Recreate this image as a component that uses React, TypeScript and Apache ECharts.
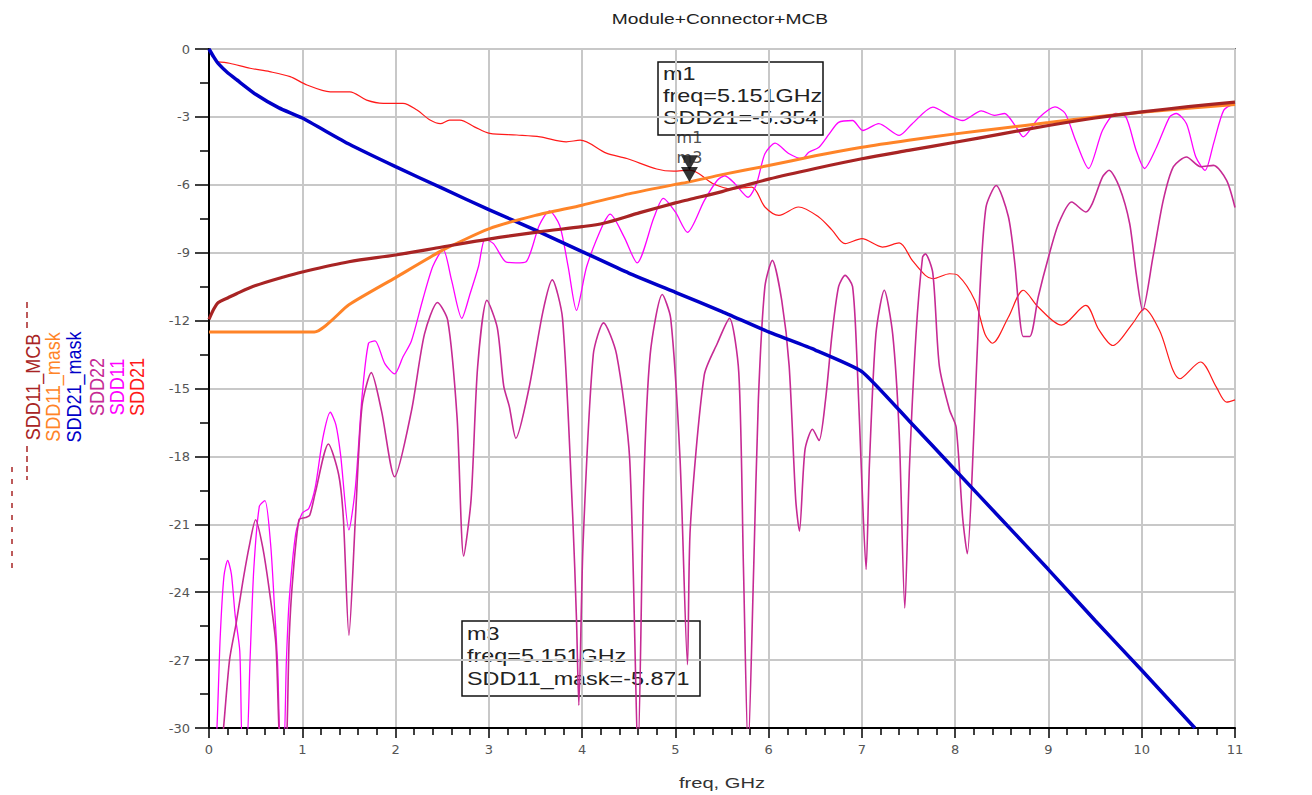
import React, { useEffect, useRef } from "react";
import * as echarts from "echarts";

const chartTitle = "Module+Connector+MCB";
const xAxisTitle = "freq, GHz";

// SDD21 (red)
const sdd21Freq = [0.08, 0.22, 0.44, 0.65, 0.87, 1.05, 1.3, 1.51, 1.69, 1.87, 2.08, 2.23, 2.37, 2.48, 2.58, 2.69, 2.85, 3.01, 3.3, 3.55, 3.83, 3.98, 4.26, 4.48, 4.8, 4.98, 5.151, 5.25, 5.4, 5.6, 5.82, 5.96, 6.11, 6.32, 6.54, 6.68, 6.82, 7.0, 7.22, 7.4, 7.54, 7.68, 7.76, 7.94, 8.03, 8.21, 8.32, 8.4, 8.57, 8.73, 8.89, 9.14, 9.4, 9.54, 9.69, 9.9, 10.03, 10.19, 10.41, 10.63, 10.8, 10.91, 11.0];
const sdd21Db = [-0.56, -0.63, -0.85, -1.0, -1.22, -1.59, -1.89, -1.89, -2.26, -2.4, -2.4, -2.7, -3.14, -3.3, -3.14, -3.14, -3.45, -3.73, -3.8, -3.88, -4.1, -4.03, -4.6, -4.84, -5.3, -5.4, -5.354, -5.5, -5.94, -6.18, -6.1, -6.98, -7.35, -6.98, -7.43, -8.0, -8.6, -8.38, -8.75, -8.57, -9.34, -10.0, -10.15, -9.93, -10.0, -11.1, -12.6, -13.0, -11.85, -10.66, -11.4, -12.2, -11.33, -12.4, -13.1, -12.14, -11.47, -12.43, -14.57, -13.83, -14.94, -15.6, -15.5];

// SDD11 (magenta)
const sdd11Freq = [0.02, 0.08, 0.12, 0.16, 0.2, 0.24, 0.28, 0.33, 0.36, 0.4, 0.44, 0.48, 0.54, 0.6, 0.66, 0.7, 0.735, 0.77, 0.8, 0.83, 0.86, 0.93, 1.0, 1.07, 1.14, 1.22, 1.3, 1.36, 1.41, 1.5, 1.57, 1.64, 1.71, 1.78, 1.885, 1.99, 2.08, 2.17, 2.29, 2.4, 2.51, 2.6, 2.71, 2.8, 2.89, 2.96, 3.05, 3.18, 3.29, 3.4, 3.54, 3.65, 3.76, 3.85, 3.94, 4.05, 4.23, 4.3, 4.45, 4.59, 4.77, 4.87, 5.0, 5.13, 5.31, 5.45, 5.53, 5.64, 5.78, 5.87, 5.96, 6.07, 6.22, 6.36, 6.43, 6.54, 6.65, 6.75, 6.9, 7.01, 7.18, 7.4, 7.54, 7.76, 7.94, 8.08, 8.28, 8.42, 8.53, 8.64, 8.73, 8.89, 9.07, 9.18, 9.29, 9.43, 9.58, 9.72, 9.83, 9.94, 10.03, 10.16, 10.3, 10.37, 10.48, 10.58, 10.68, 10.77, 10.88, 11.0];
const sdd11Db = [-34, -30.5, -26, -23.3, -22.6, -23.2, -25, -26.6, -31, -31, -27, -23, -20.2, -19.95, -21.85, -24.5, -27.1, -31, -31, -27, -24.35, -21.4, -20.5, -20.3, -19.35, -17.2, -16.05, -16.6, -17.9, -21.25, -19.35, -15.4, -13.0, -12.9, -13.9, -14.35, -13.6, -12.9, -11.1, -9.6, -8.85, -10.2, -11.9, -10.8, -9.6, -8.4, -8.6, -9.4, -9.45, -9.4, -7.8, -7.15, -7.8, -9.6, -11.55, -9.6, -7.7, -7.3, -8.3, -9.45, -7.45, -6.6, -7.2, -8.1, -6.7, -5.8, -5.6, -5.96, -6.55, -5.96, -4.63, -4.16, -4.63, -4.85, -4.56, -4.34, -3.75, -3.24, -3.16, -3.6, -3.3, -3.82, -3.3, -2.57, -2.94, -3.16, -2.73, -2.93, -2.85, -3.37, -3.88, -3.07, -2.56, -2.85, -4.03, -5.28, -3.59, -2.85, -3.0, -4.47, -5.28, -4.33, -3.0, -2.85, -3.3, -4.77, -5.36, -4.18, -2.7, -2.4];

// SDD22 (purple)
const sdd22Freq = [0.03, 0.133, 0.22, 0.29, 0.36, 0.43, 0.5, 0.575, 0.646, 0.717, 0.77, 0.82, 0.86, 0.894, 0.965, 1.035, 1.08, 1.14, 1.28, 1.39, 1.44, 1.5, 1.57, 1.64, 1.74, 1.85, 1.99, 2.17, 2.31, 2.45, 2.56, 2.66, 2.73, 2.81, 2.88, 2.98, 3.09, 3.16, 3.22, 3.29, 3.43, 3.58, 3.68, 3.79, 3.9, 3.94, 3.965, 4.01, 4.12, 4.23, 4.37, 4.51, 4.6, 4.66, 4.73, 4.86, 4.95, 5.05, 5.13, 5.16, 5.31, 5.45, 5.58, 5.68, 5.73, 5.78, 5.84, 5.89, 5.96, 6.04, 6.14, 6.22, 6.29, 6.33, 6.39, 6.47, 6.54, 6.61, 6.68, 6.75, 6.82, 6.9, 6.95, 7.0, 7.045, 7.08, 7.15, 7.24, 7.33, 7.4, 7.46, 7.51, 7.58, 7.65, 7.68, 7.76, 7.83, 7.94, 8.01, 8.08, 8.13, 8.2, 8.26, 8.33, 8.44, 8.57, 8.64, 8.69, 8.73, 8.8, 8.89, 9.0, 9.11, 9.25, 9.4, 9.47, 9.58, 9.65, 9.76, 9.87, 9.94, 10.01, 10.12, 10.23, 10.34, 10.48, 10.63, 10.77, 10.91, 11.0];
const sdd22Db = [-34, -31, -27.0, -25.4, -23.6, -22.0, -20.8, -22.0, -23.9, -26.3, -31, -31, -26, -23.6, -20.8, -20.7, -20.6, -19.6, -17.45, -18.8, -20.7, -25.9, -20.7, -15.8, -14.3, -16.0, -18.9, -16.0, -12.6, -11.2, -12.0, -16.3, -22.4, -19.9, -14.05, -11.1, -12.3, -14.9, -15.8, -17.2, -15.0, -11.6, -10.2, -11.9, -20.7, -25.2, -29, -21.9, -13.5, -12.1, -13.5, -18.1, -31, -19.4, -13.5, -10.85, -11.9, -18.1, -27.2, -21.15, -14.4, -13.0, -11.9, -14.3, -22.9, -31, -22.9, -15.5, -10.5, -9.34, -11.1, -14.0, -19.9, -21.3, -17.7, -16.8, -17.3, -15.5, -12.6, -10.5, -10.0, -10.5, -14.0, -19.2, -23.0, -18.4, -12.6, -10.66, -12.6, -17.0, -24.7, -18.45, -12.6, -9.2, -9.05, -9.9, -14.0, -15.95, -16.7, -20.7, -22.3, -17.0, -11.1, -7.0, -6.03, -7.4, -9.5, -11.8, -12.7, -12.7, -10.96, -9.2, -7.7, -6.76, -7.2, -6.83, -5.65, -5.36, -6.1, -7.7, -9.9, -11.55, -9.2, -6.7, -5.2, -4.77, -5.2, -5.14, -5.8, -7.0];

// SDD21_mask (blue)
const sdd21MaskFreq = [0, 0.05, 0.1, 0.2, 0.3, 0.5, 0.75, 1.0, 1.5, 2.0, 2.5, 3.0, 3.5, 4.0, 4.5, 5.0, 5.5, 6.0, 6.5, 7.0, 7.5, 8.0, 8.5, 9.0, 9.5, 10.0, 10.57];
const sdd21MaskDb = [0, -0.35, -0.65, -1.05, -1.37, -2.0, -2.6, -3.05, -4.2, -5.2, -6.15, -7.1, -8.0, -8.95, -9.9, -10.75, -11.6, -12.5, -13.3, -14.25, -16.4, -18.6, -20.8, -23.0, -25.25, -27.45, -30];

// SDD11_mask (orange)
const sdd11MaskFreq = [0, 1.13, 1.5, 2.0, 2.5, 3.0, 3.5, 4.0, 4.5, 5.0, 5.151, 5.5, 6.0, 6.5, 7.0, 7.5, 8.0, 8.5, 9.0, 9.5, 10.0, 10.5, 11.0];
const sdd11MaskDb = [-12.5, -12.5, -11.3, -10.1, -8.9, -7.95, -7.35, -6.9, -6.4, -5.98, -5.871, -5.55, -5.15, -4.72, -4.34, -4.03, -3.75, -3.5, -3.25, -3.0, -2.8, -2.62, -2.45];

// SDD11_MCB (brown)
const sdd11McbFreq = [0, 0.05, 0.1, 0.2, 0.3, 0.5, 0.8, 1.0, 1.5, 2.0, 2.5, 3.0, 3.54, 4.0, 4.23, 4.62, 5.0, 5.15, 5.5, 6.0, 6.5, 7.0, 7.5, 8.0, 8.5, 9.0, 9.5, 10.0, 10.5, 11.0];
const sdd11McbDb = [-11.95, -11.5, -11.2, -11.0, -10.8, -10.45, -10.07, -9.85, -9.4, -9.1, -8.75, -8.4, -8.08, -7.85, -7.7, -7.23, -6.8, -6.65, -6.3, -5.75, -5.28, -4.85, -4.48, -4.12, -3.75, -3.38, -3.05, -2.78, -2.55, -2.35];

// markers
const markerFreq = 5.151;
const m1Value = -5.354;
const m3Value = -5.871;

const legendNames = ["SDD11_MCB", "SDD11_mask", "SDD21_mask", "SDD22", "SDD11", "SDD21"];

const zip = (f: number[], v: number[]) => f.map((x, i) => [x, v[i]]);

const C = {
  red: "#ff1a1a",
  magenta: "#ff00ff",
  purple: "#c62a94",
  blue: "#0000c8",
  orange: "#ff8428",
  brown: "#a82424",
};

export default function App() {
  const ref = useRef<HTMLDivElement>(null);
  useEffect(() => {
    if (!ref.current) return;
    const chart = echarts.init(ref.current, undefined, { renderer: "svg" });
    const lineSeries = (name: string, data: number[][], color: string, width: number, smooth: number | boolean) => ({
      name,
      type: "line",
      data,
      showSymbol: false,
      symbol: "none",
      smooth,
      clip: true,
      lineStyle: { color, width },
      itemStyle: { color },
      emphasis: { disabled: true },
    });
    const marker = (label: string, value: number, dist: number) => ({
      name: label,
      type: "scatter",
      data: [[markerFreq, value]],
      symbol: "path://M0,0L10,0L5,9Z",
      symbolSize: [17, 15],
      symbolOffset: [0, "-50%"],
      itemStyle: { color: "#000" },
      z: 10,
      label: {
        show: true,
        formatter: label,
        position: "top",
        distance: dist,
        color: "#222",
        fontSize: 16,
        fontFamily: "DejaVu Sans",
      },
    });
    const legendColors = [C.brown, C.orange, C.blue, C.purple, C.magenta, C.red];
    const legendX = [33, 53, 74, 97, 117, 137];
    const legendTexts = legendNames.map((n, i) => ({
      type: "text",
      x: legendX[i],
      y: 387,
      rotation: Math.PI / 2,
      scaleY: 1.15,
      style: {
        text: n,
        fill: legendColors[i],
        font: "18px Arial, 'Liberation Sans'",
        align: "center",
        verticalAlign: "middle",
      },
    }));
    const boxText = (x: number, y: number, t: string) => ({
      type: "text",
      x,
      y,
      scaleX: 1.3,
      style: { text: t, fill: "#222", font: "18px Arial, 'Liberation Sans'", align: "left", verticalAlign: "middle" },
    });
    chart.setOption({
      animation: false,
      backgroundColor: "#ffffff",
      grid: { left: 209, right: 77, top: 49, bottom: 67, show: true, borderColor: "#000", borderWidth: 1.5 },
      xAxis: {
        type: "value",
        min: 0,
        max: 11,
        interval: 1,
        axisLine: { show: true, onZero: false, lineStyle: { color: "#000", width: 2 } },
        axisTick: { show: true, length: 10, lineStyle: { color: "#000", width: 1.5 } },
        minorTick: { show: true, splitNumber: 5, length: 7, lineStyle: { color: "#000", width: 1.5 } },
        axisLabel: { margin: 15, color: "#555", fontSize: 13, fontFamily: "DejaVu Sans" },
        splitLine: { show: true, lineStyle: { color: "#c8c8c8", width: 2 } },
      },
      yAxis: {
        type: "value",
        min: -30,
        max: 0,
        interval: 3,
        axisLine: { show: true, onZero: false, lineStyle: { color: "#000", width: 2 } },
        axisTick: { show: true, length: 14, lineStyle: { color: "#000", width: 1.5 } },
        minorTick: { show: true, splitNumber: 2, length: 9, lineStyle: { color: "#000", width: 1.5 } },
        axisLabel: { margin: 19, color: "#555", fontSize: 13, fontFamily: "DejaVu Sans" },
        splitLine: { show: true, lineStyle: { color: "#c8c8c8", width: 2 } },
      },
      series: [
        lineSeries("SDD21", zip(sdd21Freq, sdd21Db), C.red, 1.2, 0.3),
        lineSeries("SDD11", zip(sdd11Freq, sdd11Db), C.magenta, 1.3, 0.25),
        lineSeries("SDD22", zip(sdd22Freq, sdd22Db), C.purple, 1.6, 0.25),
        lineSeries("SDD21_mask", zip(sdd21MaskFreq, sdd21MaskDb), C.blue, 3.5, 0.15),
        lineSeries("SDD11_mask", zip(sdd11MaskFreq, sdd11MaskDb), C.orange, 3, 0.2),
        lineSeries("SDD11_MCB", zip(sdd11McbFreq, sdd11McbDb), C.brown, 3.2, 0.3),
        marker("m1", m1Value, 10),
        marker("m3", m3Value, 1),
      ],
      graphic: [
        {
          type: "text",
          x: 720,
          y: 19,
          scaleX: 1.37,
          style: { text: chartTitle, fill: "#222", font: "14px Arial, 'Liberation Sans'", align: "center", verticalAlign: "middle" },
        },
        {
          type: "text",
          x: 722,
          y: 783,
          scaleX: 1.44,
          style: { text: xAxisTitle, fill: "#333", font: "14px Arial, 'Liberation Sans'", align: "center", verticalAlign: "middle" },
        },
        ...legendTexts,
        { type: "line", shape: { x1: 27, y1: 302, x2: 27, y2: 330 }, style: { stroke: C.brown, lineWidth: 1.5, lineDash: [6, 4] } },
        { type: "line", shape: { x1: 27, y1: 446, x2: 27, y2: 480 }, style: { stroke: C.brown, lineWidth: 1.5, lineDash: [6, 4] } },
        { type: "line", shape: { x1: 12, y1: 467, x2: 12, y2: 572 }, style: { stroke: C.brown, lineWidth: 1.5, lineDash: [5, 7] } },
        { type: "rect", shape: { x: 658, y: 62, width: 165, height: 73 }, style: { fill: "none", stroke: "#111", lineWidth: 1.5 } },
        boxText(663, 73.5, "m1"),
        boxText(663, 95.5, "freq=5.151GHz"),
        boxText(663, 117.5, "SDD21=-5.354"),
        { type: "rect", shape: { x: 462, y: 621, width: 238, height: 75 }, style: { fill: "none", stroke: "#111", lineWidth: 1.5 } },
        boxText(467, 634, "m3"),
        boxText(467, 656, "freq=5.151GHz"),
        boxText(467, 679, "SDD11_mask=-5.871"),
      ],
    });
    return () => chart.dispose();
  }, []);
  return <div ref={ref} style={{ position: "fixed", left: 0, top: 0, width: 1312, height: 795, background: "#fff" }} />;
}
